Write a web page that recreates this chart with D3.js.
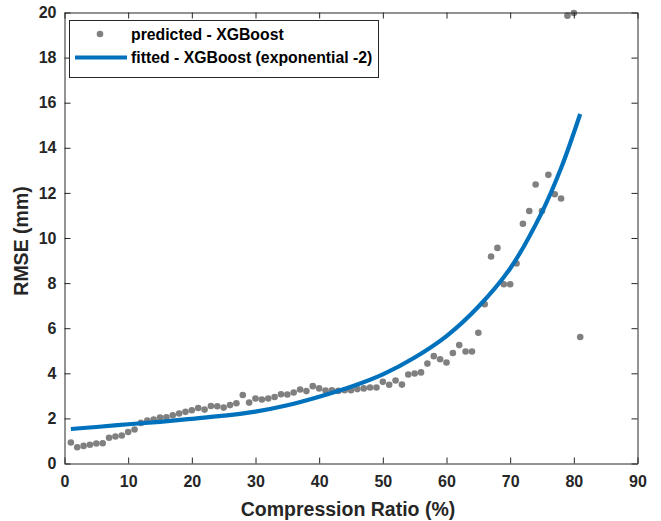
<!DOCTYPE html>
<html><head><meta charset="utf-8">
<script src="https://cdn.jsdelivr.net/npm/d3@7/dist/d3.min.js"></script>
<style>
body{margin:0;background:#fff;}
svg{display:block;font-family:"Liberation Sans",Arial,Helvetica,sans-serif;}
</style></head><body>
<svg id="chart" width="661" height="521"></svg>
<script>
// ---- data ----
const ratio = d3.range(1, 82); // 1..81 %
const predicted = [
  0.93,0.72,0.78,0.83,0.89,0.90,1.14,1.20,1.24,1.40,
  1.51,1.80,1.90,1.95,2.04,2.05,2.14,2.22,2.29,2.36,
  2.46,2.39,2.55,2.54,2.48,2.59,2.67,3.04,2.70,2.88,
  2.84,2.88,2.95,3.07,3.06,3.15,3.28,3.21,3.43,3.33,
  3.24,3.25,3.22,3.25,3.25,3.30,3.33,3.37,3.37,3.62,
  3.49,3.68,3.50,3.95,3.99,4.04,4.43,4.76,4.62,4.48,
  4.90,5.25,4.97,4.97,5.80,7.06,9.18,9.56,7.95,7.95,
  8.87,10.63,11.20,12.37,11.20,12.80,11.94,11.75,19.86,19.98,
  5.61
];
const fitX = [1,5,10,15,20,25,30,35,40,45,50,55,60,65,70,75,78,81];
const fitY = [1.53,1.62,1.74,1.85,1.98,2.12,2.30,2.58,2.96,3.40,3.95,4.70,5.65,6.95,8.65,11.15,13.1,15.5];
const xTicks = [0,10,20,30,40,50,60,70,80,90];
const yTicks = [0,2,4,6,8,10,12,14,16,18,20];
const legendLabels = ["predicted - XGBoost","fitted - XGBoost (exponential -2)"];
const xTitle = "Compression Ratio (%)";
const yTitle = "RMSE (mm)";

// ---- layout ----
const svg = d3.select("#chart");
const L = 64.5, T = 12.5, W = 573, H = 451;
const x = d3.scaleLinear().domain([0,90]).range([0,W]);
const y = d3.scaleLinear().domain([0,20]).range([H,0]);
const g = svg.append("g").attr("transform",`translate(${L},${T})`);
const axisColor = "#262626";

// points
g.append("g").selectAll("circle").data(ratio).join("circle")
  .attr("cx", (d)=>x(d)).attr("cy", (d,i)=>y(predicted[i]))
  .attr("r",3.3).attr("fill","#808080");

// fitted curve
const line = d3.line().x((d)=>x(d)).y((d,i)=>y(fitY[i])).curve(d3.curveCatmullRom.alpha(0.5));
g.append("path").datum(fitX).attr("d",line)
  .attr("fill","none").attr("stroke","#0072BD").attr("stroke-width",4.2);

// axes
function styleAxis(sel){
  sel.selectAll(".domain").attr("stroke",axisColor).attr("stroke-width",1);
  sel.selectAll(".tick line").attr("stroke",axisColor).attr("stroke-width",1);
  sel.selectAll("text").attr("fill","#262626").attr("font-size","16px").attr("font-weight","bold").attr("font-family","'Liberation Sans',Arial,sans-serif");
}
const xb = g.append("g").attr("transform",`translate(0,${H})`)
  .call(d3.axisBottom(x).tickValues(xTicks).tickSize(-6).tickPadding(12).tickSizeOuter(0).tickFormat(d3.format("d")));
styleAxis(xb);
const xt = g.append("g")
  .call(d3.axisTop(x).tickValues(xTicks).tickSize(-6).tickSizeOuter(0).tickFormat(""));
styleAxis(xt);
const yl = g.append("g")
  .call(d3.axisLeft(y).tickValues(yTicks).tickSize(-6).tickPadding(8).tickSizeOuter(0).tickFormat(d3.format("d")));
styleAxis(yl);
const yr = g.append("g").attr("transform",`translate(${W},0)`)
  .call(d3.axisRight(y).tickValues(yTicks).tickSize(-6).tickSizeOuter(0).tickFormat(""));
styleAxis(yr);

// titles
svg.append("text").attr("x", L + W/2 - 3).attr("y", 516).attr("text-anchor","middle")
  .attr("font-size","19.5px").attr("font-weight","bold").attr("fill","#262626").text(xTitle);
svg.append("text").attr("transform",`translate(28,${T + H/2 + 3}) rotate(-90)`).attr("text-anchor","middle")
  .attr("font-size","19.5px").attr("font-weight","bold").attr("fill","#262626").text(yTitle);

// legend
const lg = svg.append("g");
lg.append("rect").attr("x",69.5).attr("y",20.5).attr("width",309).attr("height",57)
  .attr("fill","#fff").attr("stroke",axisColor).attr("stroke-width",1);
lg.append("circle").attr("cx",100).attr("cy",34).attr("r",3.3).attr("fill","#808080");
lg.append("line").attr("x1",75).attr("x2",127).attr("y1",57.5).attr("y2",57.5)
  .attr("stroke","#0072BD").attr("stroke-width",4.2);
lg.selectAll("text.lbl").data(legendLabels).join("text").attr("class","lbl")
  .attr("x",131).attr("y",(d,i)=>39.5 + i*23)
  .attr("font-size","15.8px").attr("font-weight","bold").attr("fill","#000").text((d)=>d);
</script>
</body></html>
